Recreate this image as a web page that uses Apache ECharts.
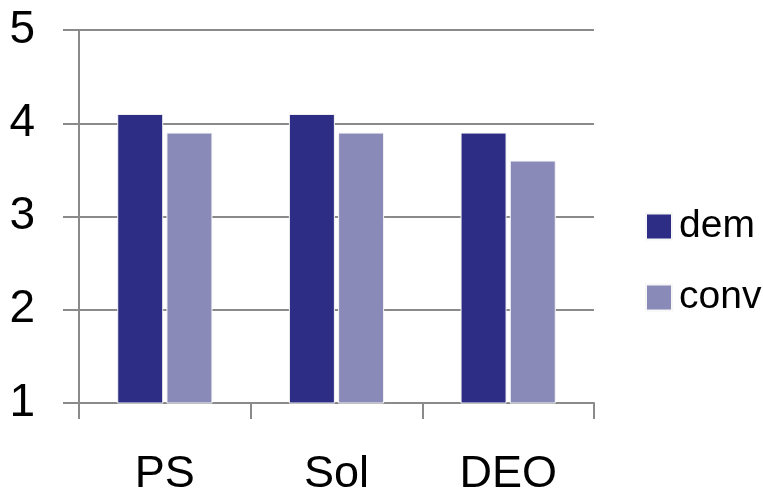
<!DOCTYPE html>
<html>
<head>
<meta charset="utf-8">
<script src="https://cdn.jsdelivr.net/npm/echarts@6/dist/echarts.min.js"></script>
<style>
  html, body { margin: 0; padding: 0; background: #ffffff; }
  #chart { width: 763px; height: 497px; }
</style>
</head>
<body>
<div id="chart"></div>
<script>
// Categories and mean scores per method
var categories = ['PS', 'Sol', 'DEO'];
var demValues = [4.1, 4.1, 3.9];
var convValues = [3.9, 3.9, 3.6];
var yTicks = [1, 2, 3, 4, 5];

var FONT = 'Arial, "Liberation Sans", sans-serif';
var gray = '#8a8a8a';

var chart = echarts.init(document.getElementById('chart'), null, { renderer: 'canvas' });
chart.setOption({
  animation: false,
  backgroundColor: '#ffffff',
  grid: { left: 79, right: 169, top: 30, bottom: 91, containLabel: false },
  legend: {
    orient: 'vertical',
    left: 640,
    top: 202,
    itemWidth: 26,
    itemHeight: 26,
    itemGap: 32,
    icon: 'rect',
    textStyle: { fontFamily: FONT, fontSize: 39, color: '#000', padding: [0, 0, 0, 2] },
    data: ['dem', 'conv']
  },
  xAxis: {
    type: 'category',
    data: categories,
    axisLine: { lineStyle: { color: gray, width: 2 } },
    axisTick: { show: true, length: 16, lineStyle: { color: gray, width: 2 } },
    axisLabel: { fontFamily: FONT, fontSize: 45, color: '#000', margin: 49 }
  },
  yAxis: {
    type: 'value',
    min: yTicks[0],
    max: yTicks[yTicks.length - 1],
    interval: 1,
    axisLine: { show: true, lineStyle: { color: gray, width: 2 } },
    axisTick: { show: true, length: 16, lineStyle: { color: gray, width: 2 } },
    splitLine: { show: true, lineStyle: { color: gray, width: 2 } },
    axisLabel: { fontFamily: FONT, fontSize: 46, color: '#000', margin: 44 }
  },
  series: [
    {
      name: 'dem',
      type: 'bar',
      data: demValues,
      barWidth: 46,
      barGap: '7%',
      itemStyle: { color: '#2d2d85', borderColor: '#f6f6f6', borderWidth: 1 }
    },
    {
      name: 'conv',
      type: 'bar',
      data: convValues,
      barWidth: 46,
      itemStyle: { color: '#8a8ab8', borderColor: '#f6f6f6', borderWidth: 1 }
    }
  ]
});
</script>
</body>
</html>
